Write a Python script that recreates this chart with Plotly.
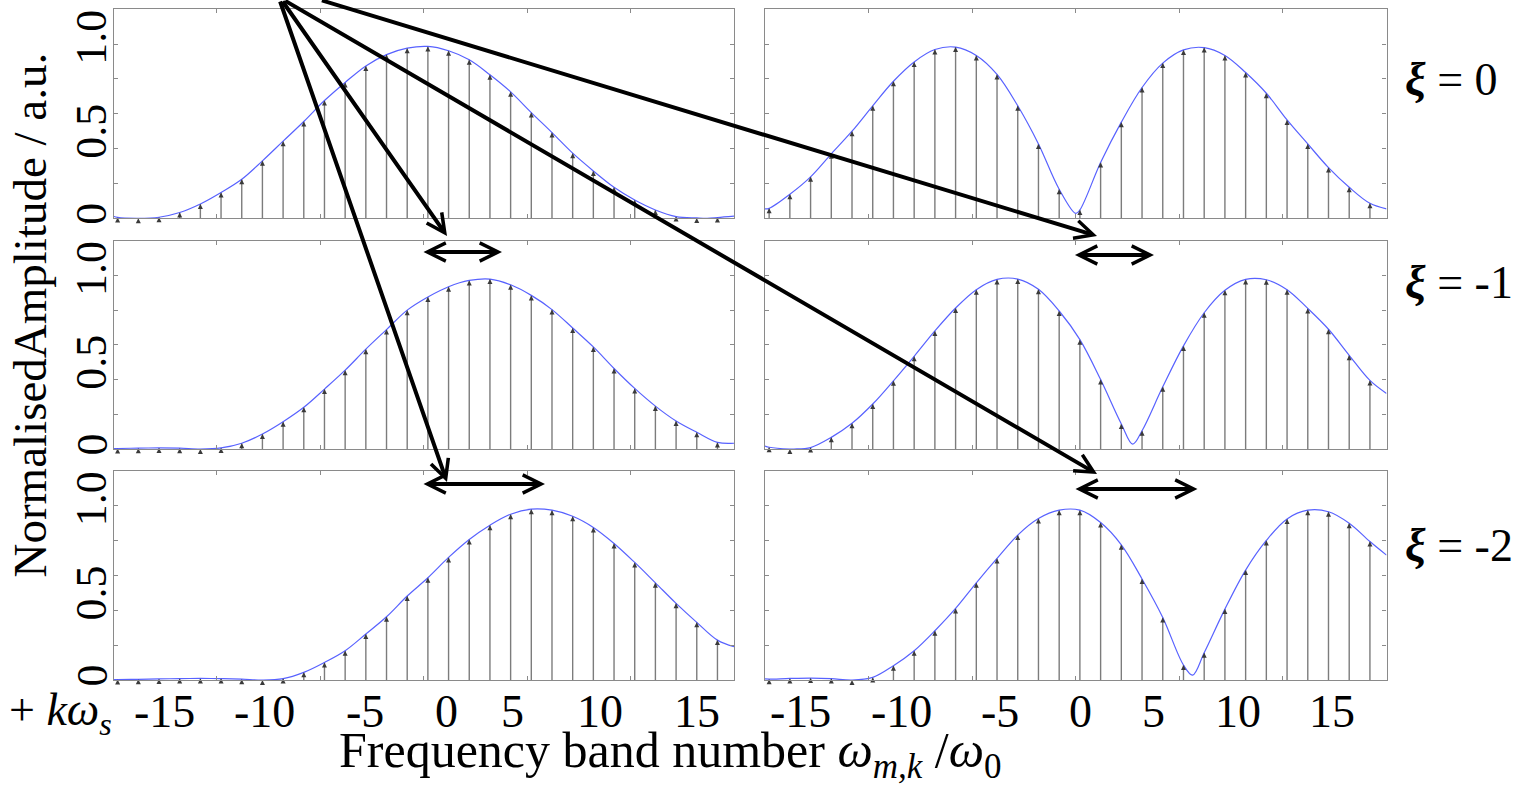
import plotly.graph_objects as go

# ---------------------------------------------------------------- data
BAND_INDEX = list(range(-15, 15))          # sideband numbers n
BAND_OFFSET = 0.2                          # stems sit at n + 0.2

XI_VALUES = ["0", "-1", "-2"]

# normalised sideband amplitudes, one list per panel (row = xi, column = case)
AMP_XI0_A = [0.005, 0.0, 0.006, 0.033, 0.082, 0.148, 0.224, 0.33, 0.443, 0.556,
             0.676, 0.78, 0.875, 0.94, 0.977, 0.987, 0.962, 0.91, 0.824, 0.726,
             0.607, 0.492, 0.374, 0.272, 0.178, 0.105, 0.048, 0.01, 0.002, 0.004]
AMP_XI0_B = [0.057, 0.138, 0.238, 0.37, 0.5, 0.646, 0.787, 0.898, 0.969, 0.983,
             0.935, 0.826, 0.646, 0.427, 0.167, 0.048, 0.32, 0.552, 0.751, 0.891,
             0.967, 0.98, 0.935, 0.837, 0.718, 0.565, 0.427, 0.291, 0.178, 0.086]
AMP_XI1_A = [0.003, 0.005, 0.006, 0.005, 0.0, 0.006, 0.033, 0.086, 0.157, 0.24,
             0.345, 0.454, 0.575, 0.688, 0.8, 0.876, 0.935, 0.971, 0.979, 0.946,
             0.885, 0.803, 0.697, 0.588, 0.464, 0.349, 0.247, 0.161, 0.096, 0.038]
AMP_XI1_B = [0.01, 0.0, 0.008, 0.067, 0.148, 0.259, 0.393, 0.534, 0.68, 0.812,
             0.918, 0.977, 0.979, 0.92, 0.795, 0.63, 0.4, 0.144, 0.105, 0.358,
             0.594, 0.785, 0.914, 0.977, 0.975, 0.918, 0.81, 0.69, 0.54, 0.395]
AMP_XI2_A = [0.003, 0.004, 0.006, 0.008, 0.009, 0.008, 0.005, 0.0, 0.008, 0.044,
             0.101, 0.168, 0.264, 0.363, 0.482, 0.587, 0.704, 0.807, 0.889, 0.952,
             0.981, 0.975, 0.94, 0.876, 0.784, 0.675, 0.558, 0.44, 0.331, 0.229]
AMP_XI2_B = [0.005, 0.009, 0.011, 0.008, 0.0, 0.015, 0.082, 0.168, 0.283, 0.411,
             0.558, 0.698, 0.832, 0.927, 0.975, 0.975, 0.904, 0.776, 0.58, 0.359,
             0.086, 0.157, 0.407, 0.631, 0.801, 0.925, 0.975, 0.966, 0.9, 0.795]

# extra envelope points (panel edges and the notches between the sidebands)
ENV_XI0_A_X = [-15, 13.7, 15]
ENV_XI0_A_Y = [0.012, 0.0, 0.012]
ENV_XI0_B_X = [-15, 0.0, 15]
ENV_XI0_B_Y = [0.054, 0.028, 0.054]
ENV_XI1_A_X = [-15, 15]
ENV_XI1_A_Y = [0.003, 0.033]
ENV_XI1_B_X = [-15, -13.6, 2.75, 15]
ENV_XI1_B_Y = [0.017, 0.0, 0.028, 0.32]
ENV_XI2_A_X = [-15, 15]
ENV_XI2_A_Y = [0.003, 0.191]
ENV_XI2_B_X = [-15, 5.64, 15]
ENV_XI2_B_Y = [0.006, 0.028, 0.717]

X_TICK_LABELS = ["-15", "-10", "-5", "0", "5", "10", "15"]
Y_TICK_LABELS = ["0", "0.5", "1.0"]
Y_TICK_VALUES = [0, 0.5, 1.0]

# ---------------------------------------------------------------- layout helpers
W, H = 1519, 785
FONT = "Liberation Serif"


def px(x):
    return x / W


def py(y):
    return 1 - y / H


COL_DOMAINS = [[px(113.5), px(734.0)], [px(765.0), px(1386.5)]]
ROW_DOMAINS = [[py(218.3), py(9.3)], [py(449.0), py(240.7)], [py(680.0), py(471.0)]]

PANELS = [
    (AMP_XI0_A, ENV_XI0_A_X, ENV_XI0_A_Y),
    (AMP_XI0_B, ENV_XI0_B_X, ENV_XI0_B_Y),
    (AMP_XI1_A, ENV_XI1_A_X, ENV_XI1_A_Y),
    (AMP_XI1_B, ENV_XI1_B_X, ENV_XI1_B_Y),
    (AMP_XI2_A, ENV_XI2_A_X, ENV_XI2_A_Y),
    (AMP_XI2_B, ENV_XI2_B_X, ENV_XI2_B_Y),
]

AXIS_GREY = "#8a8a8a"
STEM_GREY = "#7c7c7c"
HEAD_GREY = "#3a3a3a"
ENV_BLUE = "rgb(88,98,255)"

fig = go.Figure()
layout = dict(
    width=W, height=H,
    margin=dict(l=0, r=0, t=0, b=0, autoexpand=False),
    paper_bgcolor="white", plot_bgcolor="white",
    showlegend=False,
    font=dict(family=FONT, color="black"),
)

band_x = [n + BAND_OFFSET for n in BAND_INDEX]

for i, (amps, ex, ey) in enumerate(PANELS):
    k = i + 1
    row, col = divmod(i, 2)
    xname = "x" if k == 1 else f"x{k}"
    yname = "y" if k == 1 else f"y{k}"

    # stems
    sx, sy = [], []
    for x, a in zip(band_x, amps):
        sx += [x, x, None]
        sy += [0, a, None]
    fig.add_trace(go.Scatter(x=sx, y=sy, mode="lines", xaxis=xname, yaxis=yname,
                             line=dict(color=STEM_GREY, width=1.4), hoverinfo="skip"))

    # envelope through the sideband tips plus edges / notches
    pts = sorted(list(zip(band_x, amps)) + list(zip(ex, ey)))
    fig.add_trace(go.Scatter(x=[p[0] for p in pts], y=[p[1] for p in pts], mode="lines",
                             xaxis=xname, yaxis=yname, line_shape="spline",
                             line=dict(color=ENV_BLUE, width=1.2, smoothing=1.0)))

    # arrow tips of the stems
    fig.add_trace(go.Scatter(x=band_x, y=amps, mode="markers", xaxis=xname, yaxis=yname,
                             cliponaxis=False,
                             marker=dict(symbol="arrow-up", size=5, color=HEAD_GREY,
                                         line=dict(width=0))))

    layout[f"xaxis{'' if k == 1 else k}"] = dict(
        domain=COL_DOMAINS[col], range=[-15, 15], anchor=yname,
        tickvals=[-10, -5, 0, 5, 10], ticks="inside", ticklen=4, tickcolor=AXIS_GREY,
        showticklabels=False, showline=True, linecolor=AXIS_GREY, linewidth=1.2,
        mirror="ticks", showgrid=False, zeroline=False, fixedrange=True,
    )
    layout[f"yaxis{'' if k == 1 else k}"] = dict(
        domain=ROW_DOMAINS[row], range=[0, 1.2], anchor=xname,
        tickvals=[0.2, 0.4, 0.6, 0.8, 1.0], ticks="inside", ticklen=4, tickcolor=AXIS_GREY,
        showticklabels=False, showline=True, linecolor=AXIS_GREY, linewidth=1.2,
        mirror="ticks", showgrid=False, zeroline=False, fixedrange=True,
    )

ann = []

# y tick labels (rotated), left column only
Y_LABEL_SHIFT = [4, 0, 7]
for row in range(3):
    yref = "y" if row == 0 else f"y{2 * row + 1}"
    for lab, val, sh in zip(Y_TICK_LABELS, Y_TICK_VALUES, Y_LABEL_SHIFT):
        ann.append(dict(x=px(91.5), y=val, xref="paper", yref=yref, text=lab, yshift=sh,
                        showarrow=False, textangle=-90, xanchor="center", yanchor="middle",
                        font=dict(size=44, family=FONT)))

# x tick labels under both columns
X_LABEL_PX = [[164.5, 264, 365, 446, 512.6, 599.5, 696.5],
              [800, 901, 999.5, 1080.7, 1153, 1238, 1332]]
for col in range(2):
    for lab, xp in zip(X_TICK_LABELS, X_LABEL_PX[col]):
        ann.append(dict(x=px(xp), y=py(711), xref="paper", yref="paper", text=lab,
                        showarrow=False, xanchor="center", yanchor="middle",
                        font=dict(size=46, family=FONT)))

ann.append(dict(x=px(114), y=py(713), xref="paper", yref="paper",
                text="+ <i>kω</i><sub><i>s</i></sub>", showarrow=False,
                xanchor="right", yanchor="middle", font=dict(size=46, family=FONT)))

# axis titles
ann.append(dict(x=px(670), y=py(754), xref="paper", yref="paper",
                text="Frequency band number <i>ω</i><sub><i>m,k</i></sub> /<i>ω</i><sub>0</sub>",
                showarrow=False, xanchor="center", yanchor="middle",
                font=dict(size=50, family=FONT)))
ann.append(dict(x=px(29), y=py(315.5), xref="paper", yref="paper",
                text="NormalisedAmplitude / a.u.", showarrow=False, textangle=-90,
                xanchor="center", yanchor="middle", font=dict(size=47, family=FONT)))

# xi labels
for xi, yc in zip(XI_VALUES, [80, 283, 545]):
    ann.append(dict(x=px(1403), y=py(yc), xref="paper", yref="paper",
                    text=f"<b><i>ξ</i></b> = {xi}", showarrow=False,
                    xanchor="left", yanchor="middle", font=dict(size=46, family=FONT)))

# pointer arrows entering from the top edge, tip at the shift arrows
POINTERS = [((281.6, 0), (447, 236)), ((320.4, 0), (1097, 236)),
            ((279.6, 0), (447, 482)), ((283.7, 0), (1097, 474))]
for (sx0, sy0), (tx, ty) in POINTERS:
    ann.append(dict(x=px(tx), y=py(ty), xref="paper", yref="paper", text="",
                    showarrow=True, ax=sx0 - tx, ay=sy0 - ty,
                    axref="pixel", ayref="pixel", arrowhead=5, arrowsize=0.9,
                    arrowwidth=4, arrowcolor="black", standoff=0))

# double-headed shift arrows
for x0, x1, yy in [(422, 502, 252), (1073.5, 1154, 255), (422, 545, 484), (1074, 1197.5, 489)]:
    ann.append(dict(x=px(x1), y=py(yy), xref="paper", yref="paper", text="",
                    showarrow=True, ax=x0 - x1, ay=0, axref="pixel", ayref="pixel",
                    arrowside="end+start", arrowhead=5, startarrowhead=5,
                    arrowsize=0.9, startarrowsize=0.9, arrowwidth=4,
                    arrowcolor="black", standoff=0, startstandoff=0))

layout["annotations"] = ann
fig.update_layout(**layout)
fig.write_html("out.html")
